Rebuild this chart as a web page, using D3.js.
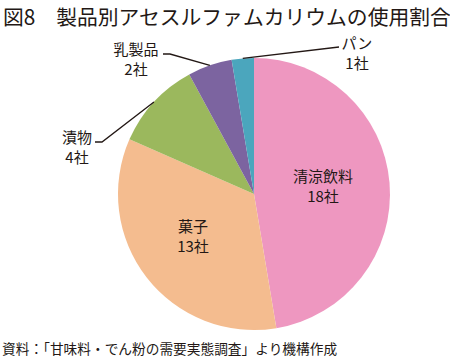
<!DOCTYPE html>
<html>
<head>
<meta charset="utf-8">
<script src="https://d3js.org/d3.v7.min.js"></script>
<style>
    body { margin: 0; background: #fff; }
    text { font-family: "Noto Sans CJK JP", sans-serif; fill: #231815; }
</style>
</head>
<body>
<svg class="target" width="450" height="358"></svg>
<script>

    // data
    const categories = ["清涼飲料", "菓子", "漬物", "乳製品", "パン"];
    const counts = [18, 13, 4, 2, 1];
    const countLabels = ["18社", "13社", "4社", "2社", "1社"];
    const colors = ["#ee97c0", "#f4bc8f", "#9bb85d", "#7c64a0", "#4ba6bd"];

    let svg = d3.select(".target"),
        width = +svg.attr("width"),
        height = +svg.attr("height");

    let cx = 254, cy = 194, r = 136;

    svg.append("text")
        .attr("x", 3)
        .attr("y", 25)
        .attr("font-size", "20.8px")
        .text("図8　製品別アセスルファムカリウムの使用割合");

    svg.append("text")
        .attr("x", 2)
        .attr("y", 354)
        .attr("font-size", "13.7px")
        .text("資料：「甘味料・でん粉の需要実態調査」より機構作成");

    let pie = d3.pie().sort(null).value(d => d);
    let arcs = pie(counts);
    let arc = d3.arc().innerRadius(0).outerRadius(r);

    let g = svg.append("g")
        .attr("transform", "translate(" + cx + "," + cy + ")");

    g.selectAll("path")
        .data(arcs)
        .enter().append("path")
        .attr("d", arc)
        .attr("fill", (d, i) => colors[i]);

    // label spots, relative to the pie centre
    let inside = { 0: [69, -12], 1: [-61, 38] };
    let outside = {
        2: { text: [-177, -51], elbow: [[-159, -52], [-152, -52]] },
        3: { text: [-118, -139], elbow: [[-91, -140], [-84, -140]] },
        4: { text: [103, -145], elbow: [[85, -147]] }
    };

    arcs.forEach((d, i) => {
        let pos;
        if (inside[i]) {
            pos = inside[i];
        } else {
            let o = outside[i];
            pos = o.text;
            let a = (d.startAngle + d.endAngle) / 2;
            let edge = [Math.sin(a) * r, -Math.cos(a) * r];
            let pts = o.elbow.concat([edge]);
            g.append("path")
                .attr("d", d3.line()(pts))
                .attr("fill", "none")
                .attr("stroke", "#231815")
                .attr("stroke-width", 1.3);
        }
        let lg = g.append("text")
            .attr("text-anchor", "middle")
            .attr("font-size", "15px");
        lg.append("tspan").attr("x", pos[0]).attr("y", pos[1]).text(categories[i]);
        lg.append("tspan").attr("x", pos[0]).attr("y", pos[1] + 20).text(countLabels[i]);
    });
</script>
</body>
</html>
